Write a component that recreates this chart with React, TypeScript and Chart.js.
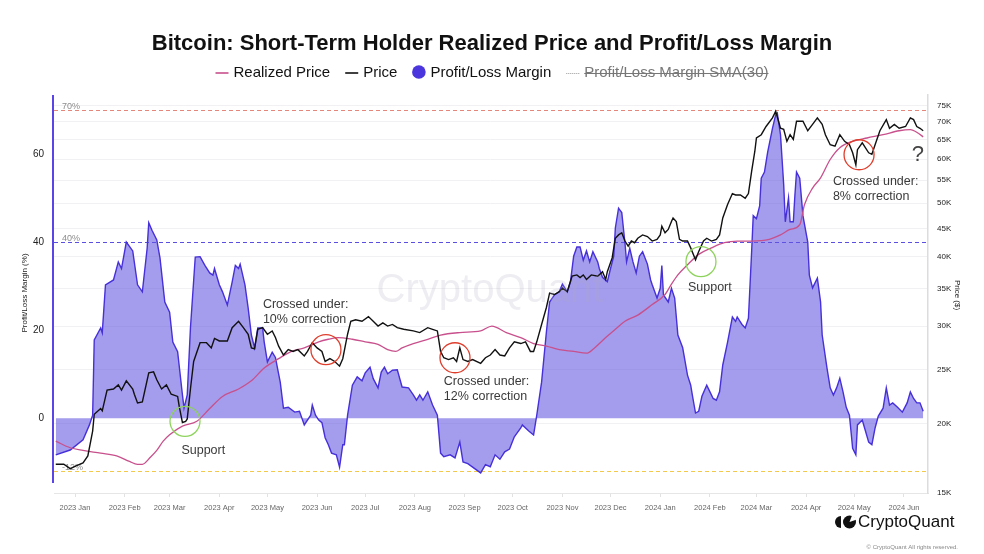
import React, { useEffect, useRef } from 'react';
import { Chart, registerables } from 'chart.js';

Chart.register(...registerables);

const FONT = '"Liberation Sans", Arial, Helvetica, sans-serif';

// ---- x axis (days since 2023-01-01) ----
const monthDays = [0, 31, 59, 90, 120, 151, 181, 212, 243, 273, 304, 334, 365, 396, 425, 456, 486, 517];
const monthLabels = [
  '2023 Jan', '2023 Feb', '2023 Mar', '2023 Apr', '2023 May', '2023 Jun', '2023 Jul', '2023 Aug',
  '2023 Sep', '2023 Oct', '2023 Nov', '2023 Dec', '2024 Jan', '2024 Feb', '2024 Mar', '2024 Apr',
  '2024 May', '2024 Jun',
];

// ---- Profit/Loss Margin (%) ----
const marginDays = [
  -12, -3, 5, 9, 11, 12, 16, 17, 19, 24,
  27, 29, 32, 36, 39, 42, 45, 46, 48, 51,
  53, 56, 59, 61, 64, 67, 68, 70, 72, 75,
  78, 81, 84, 86, 87, 90, 92, 95, 98, 100,
  102, 103, 106, 108, 110, 112, 114, 117, 118, 120,
  123, 125, 128, 130, 133, 137, 140, 143, 147, 148,
  150, 152, 154, 156, 158, 160, 163, 165, 167, 168,
  170, 173, 176, 179, 181, 184, 186, 189, 191, 193,
  195, 198, 201, 204, 208, 211, 213, 215, 217, 220,
  223, 226, 228, 230, 234, 237, 240, 242, 245, 248,
  253, 256, 259, 262, 265, 268, 271, 274, 278, 279,
  283, 286, 288, 291, 294, 296, 299, 302, 304, 307,
  309, 311, 313, 315, 317, 319, 321, 323, 326, 327,
  329, 332, 334, 336, 337, 339, 341, 343, 344, 346,
  348, 350, 352, 354, 357, 359, 360, 363, 365, 366,
  367, 370, 372, 374, 376, 379, 382, 384, 385, 387,
  389, 391, 394, 396, 398, 400, 402, 404, 407, 410,
  412, 413, 416, 418, 420, 422, 423, 425, 427, 428,
  430, 432, 435, 437, 438, 440, 442, 443, 445, 446,
  448, 449, 450, 452, 454, 457, 458, 460, 463, 465,
  466, 469, 471, 473, 475, 477, 479, 481, 483, 485,
  487, 488, 491, 493, 495, 497, 499, 501, 504, 506,
  508, 510, 513, 516, 519, 521, 523, 525, 527, 529,
];
const marginValues = [
  -8.3, -7.2, -4.9, -1.5, 0.7, 17.8, 20.5, 19.4, 30.3, 31.4,
  35.5, 34, 40, 38, 30.3, 28.7, 38.6, 44.4, 42.7, 40.5,
  36.4, 26.4, 24.1, 17.3, 15.1, 5.3, 2.3, 5.3, 20.5, 36.6,
  36.7, 34.7, 33, 32.5, 34, 30.3, 28.7, 25.7, 30.9, 34.7,
  34, 35, 30.3, 25, 18.9, 16, 20.5, 20.5, 17.3, 12.8,
  15, 13.8, 8.2, 2.3, 2.5, 1.4, 1.6, -1.5, 0.7, 3,
  0.7, -0.4, -1, -4.4, -6, -7.9, -8.3, -11.1, -6, -6,
  0.7, 7.5, 9.4, 8.5, 10.3, 11.6, 9, 6.9, 10.5, 11.6,
  10.1, 10.9, 11, 7.1, 6.9, 5.3, 4.1, 5.3, 4.1, 6,
  3, 0.7, -7.9, -8.7, -8.3, -9, -5.4, -9.9, -10.3, -11.1,
  -12.4, -10.5, -11, -8.3, -9.3, -7.6, -7, -4.2, -2.2, -1.5,
  -2.9, -3.8, 0.7, 8.2, 19.6, 26.4, 28, 28.7, 30.5, 28.7,
  31, 36.8, 38.9, 38.9, 35.9, 38, 35.5, 37.8, 35.5, 34,
  32, 31, 34, 36.8, 43.2, 47.7, 46.7, 39.8, 35.5, 38.6,
  35.5, 33, 36.8, 37.8, 35, 31.4, 30.3, 27.3, 29.5, 34.7,
  28, 26.4, 29.5, 27.3, 18.9, 16, 9.8, 7.5, 5.3, 1.2,
  1.6, 5, 7.5, 6, 4.5, 4.1, 6, 12.1, 17.3, 23,
  22, 23, 21.3, 20.5, 22.7, 37.8, 46, 45.3, 48.2, 54.5,
  55.9, 60.4, 65.8, 68.9, 69.3, 64.4, 53, 44.6, 50, 44.6,
  44.6, 50.7, 55.9, 54.5, 46, 40, 32.5, 29.6, 31.8, 26.4,
  18.9, 11.4, 6.9, 5.3, 6.9, 9.1, 6, 2.5, 0.7, -6.8,
  -8.3, -1.5, -0.4, -2.9, -5.4, -6, -2.2, 0.5, 2.3, 6.9,
  3, 3.5, 2.5, 1.4, 3.5, 6, 4.5, 3.5, 3.5, 1.6,
];

// ---- Price (thousand $) ----
const priceDays = [
  -12, -7, -3, 1, 5, 8, 11, 12, 16, 17,
  20, 24, 27, 29, 32, 36, 37, 39, 42, 46,
  49, 51, 54, 57, 60, 64, 65, 67, 69, 70,
  72, 74, 78, 82, 85, 87, 90, 95, 98, 102,
  105, 108, 110, 112, 114, 117, 120, 123, 125, 127,
  130, 133, 136, 139, 143, 145, 148, 151, 154, 156,
  159, 162, 165, 167, 170, 172, 175, 179, 183, 186,
  189, 192, 195, 198, 201, 205, 211, 215, 220, 223,
  226, 228, 230, 233, 236, 238, 240, 242, 245, 248,
  253, 256, 259, 262, 265, 268, 271, 274, 278, 281,
  284, 286, 288, 291, 294, 296, 299, 302, 304, 307,
  310, 313, 315, 317, 319, 322, 326, 329, 331, 332,
  335, 337, 339, 341, 343, 345, 347, 349, 351, 354,
  357, 360, 363, 365, 366, 368, 370, 372, 373, 375,
  377, 379, 382, 384, 387, 389, 392, 394, 397, 400,
  402, 404, 407, 410, 412, 415, 418, 420, 422, 424,
  425, 428, 431, 435, 437, 440, 442, 444, 446, 448,
  450, 454, 457, 460, 463, 466, 468, 471, 474, 477,
  480, 483, 485, 487, 488, 491, 495, 497, 499, 502,
  506, 508, 511, 514, 518, 521, 523, 525, 527, 529,
];
const priceValues = [
  16.9, 16.9, 16.6, 16.8, 17.0, 17.5, 19.4, 20.8, 21.3, 21.1,
  23.0, 23.1, 23.5, 23.0, 23.9, 23.1, 22.6, 21.8, 21.9, 24.7,
  24.8, 24.0, 23.1, 23.5, 22.6, 22.4, 21.5, 20.1, 20.2, 20.4,
  23.1, 25.9, 28.0, 28.0, 27.4, 28.5, 28.2, 28.2, 29.8, 30.6,
  29.8, 29.0, 27.4, 27.3, 29.6, 29.8, 29.0, 29.4, 28.6, 27.6,
  26.6, 27.2, 27.0, 27.2, 26.5, 27.0, 28.0, 27.4, 27.0, 25.9,
  26.2, 25.9, 25.4, 26.2, 29.0, 30.6, 30.8, 30.6, 31.2, 30.6,
  30.0, 30.4, 30.0, 30.2, 29.8, 29.6, 29.4, 29.2, 29.8, 29.6,
  29.4, 27.0, 26.3, 26.1, 26.3, 25.9, 27.4, 26.1, 25.9, 26.1,
  25.7, 26.3, 26.6, 27.2, 26.6, 26.5, 27.4, 28.1, 27.9, 28.1,
  27.0, 27.0, 28.1, 30.2, 32.4, 34.4, 34.2, 34.6, 35.1, 34.6,
  36.9, 37.1, 36.7, 37.1, 36.4, 37.1, 36.9, 37.6, 36.4, 37.6,
  39.8, 43.2, 43.8, 44.2, 42.7, 41.8, 42.7, 42.4, 43.2, 43.8,
  43.5, 42.7, 43.0, 43.8, 45.4, 44.2, 44.8, 46.3, 47.0, 46.3,
  43.0, 42.7, 42.7, 41.5, 39.5, 40.9, 42.7, 43.2, 42.7, 43.0,
  43.8, 47.0, 49.7, 52.0, 51.7, 51.7, 51.0, 52.0, 57.0, 62.0,
  65.5, 66.4, 68.7, 71.2, 73.2, 68.2, 67.9, 64.6, 66.4, 65.1,
  70.2, 70.2, 67.5, 69.3, 71.2, 69.3, 66.4, 63.7, 63.3, 66.4,
  64.6, 63.7, 61.6, 58.6, 62.4, 64.2, 61.6, 61.2, 63.7, 67.5,
  70.7, 68.2, 69.3, 68.2, 68.7, 71.2, 70.7, 68.7, 68.2, 67.5,
];

// ---- Short-term holder realized price (thousand $) ----
const realizedDays = [
  -12, -3, 5, 16, 26, 34, 39, 42, 47, 51,
  55, 59, 67, 76, 84, 92, 102, 110, 118, 127,
  135, 143, 152, 158, 164, 173, 181, 189, 195, 200,
  204, 211, 220, 228, 240, 253, 260, 269, 278, 286,
  294, 302, 311, 319, 324, 331, 337, 343, 351, 360,
  368, 372, 376, 382, 389, 397, 405, 413, 422, 433,
  440, 446, 452, 455, 460, 465, 471, 477, 485, 494,
  504, 514, 521, 526, 529,
];
const realizedValues = [
  18.6, 18.1, 17.9, 17.7, 17.5, 17.1, 16.9, 16.9, 17.4, 17.9,
  18.6, 19.1, 19.8, 20.2, 21.3, 22.4, 23.1, 23.9, 25.2, 26.2,
  27.0, 27.4, 28.1, 28.4, 28.6, 28.4, 28.1, 27.8, 27.2, 27.0,
  27.4, 27.9, 28.4, 28.9, 29.2, 29.4, 30.0, 29.2, 28.6, 27.9,
  27.6, 27.2, 27.0, 26.8, 27.4, 28.6, 29.6, 30.6, 31.4, 32.8,
  34.2, 35.7, 37.1, 38.7, 40.4, 41.5, 42.4, 42.7, 42.7, 43.0,
  43.8, 44.8, 45.7, 49.7, 53.2, 55.5, 59.9, 62.9, 64.6, 65.5,
  66.4, 67.5, 67.8, 66.8, 65.8,
];

const leftTicks = [0, 20, 40, 60];
const priceTicks = [15, 20, 25, 30, 35, 40, 45, 50, 55, 60, 65, 70, 75];
const refLevels = [70, 40, -12];
const refLabels = ['70%', '40%', '-12%'];

// annotations placed in data coordinates (day, price in K)
const circleNotes = [
  { day: 68.6, price: 20.2, kind: 'support' },
  { day: 156.5, price: 27.2, kind: 'cross' },
  { day: 237, price: 26.3, kind: 'cross' },
  { day: 390.4, price: 39.2, kind: 'support' },
  { day: 489, price: 61.1, kind: 'cross' },
];
const textNotes = [
  { day: 80, price: 17.9, lines: ['Support'], align: 'center' },
  { day: 117.2, price: 32.8, lines: ['Crossed under:', '10% correction'], align: 'left' },
  { day: 230, price: 23.8, lines: ['Crossed under:', '12% correction'], align: 'left' },
  { day: 382.3, price: 35.2, lines: ['Support'], align: 'left' },
  { day: 472.7, price: 54.6, lines: ['Crossed under:', '8% correction'], align: 'left' },
];
const questionNote = { day: 525.7, price: 61.1, text: '?' };

const TITLE = 'Bitcoin: Short-Term Holder Realized Price and Profit/Loss Margin';
const legendItems = [
  { text: 'Realized Price', kind: 'line', color: '#c8508c', hidden: false },
  { text: 'Price', kind: 'line', color: '#111111', hidden: false },
  { text: 'Profit/Loss Margin', kind: 'circle', color: '#4a36dc', hidden: false },
  { text: 'Profit/Loss Margin SMA(30)', kind: 'dotted', color: '#9a9a9a', hidden: true },
];

const zip = (xs: number[], ys: number[]) => xs.map((x, i) => ({ x, y: ys[i] }));

const overlayPlugin = {
  id: 'overlay',
  beforeDatasetsDraw(chart: any) {
    const { ctx, chartArea, scales } = chart;
    const y = scales.y;
    const colors = ['#e4877a', '#5b4fe2', '#f2c94a'];
    ctx.save();
    refLevels.forEach((lvl, i) => {
      const py = Math.round(y.getPixelForValue(lvl)) + 0.5;
      ctx.setLineDash([4, 3]);
      ctx.strokeStyle = colors[i];
      ctx.lineWidth = 1;
      ctx.beginPath();
      ctx.moveTo(chartArea.left, py);
      ctx.lineTo(chartArea.right, py);
      ctx.stroke();
      ctx.setLineDash([]);
      ctx.fillStyle = '#8c8c8c';
      ctx.font = `9px ${FONT}`;
      ctx.textAlign = 'left';
      ctx.textBaseline = 'alphabetic';
      ctx.fillText(refLabels[i], chartArea.left + 8, py - 2);
    });
    ctx.restore();
  },
  afterDatasetsDraw(chart: any) {
    const { ctx, scales } = chart;
    const x = scales.x;
    const y1 = scales.y1;
    ctx.save();
    // watermark
    ctx.font = `40px ${FONT}`;
    ctx.fillStyle = 'rgba(175,175,195,0.22)';
    ctx.textAlign = 'center';
    ctx.textBaseline = 'middle';
    ctx.fillText('CryptoQuant', 490, 291);

    // circles
    circleNotes.forEach((c) => {
      const px = x.getPixelForValue(c.day);
      const py = y1.getPixelForValue(c.price);
      ctx.beginPath();
      ctx.arc(px, py, 15, 0, Math.PI * 2);
      ctx.strokeStyle = c.kind === 'support' ? '#8ed35c' : '#df3d2b';
      ctx.lineWidth = 1.3;
      ctx.stroke();
    });

    // text notes
    ctx.font = `12.5px ${FONT}`;
    ctx.fillStyle = '#3a3a3a';
    ctx.textBaseline = 'middle';
    textNotes.forEach((t) => {
      const px = x.getPixelForValue(t.day);
      const py = y1.getPixelForValue(t.price);
      ctx.textAlign = t.align as CanvasTextAlign;
      t.lines.forEach((ln, i) => ctx.fillText(ln, px, py + i * 14.5));
    });
    ctx.font = `22px ${FONT}`;
    ctx.textAlign = 'center';
    ctx.fillStyle = '#444';
    ctx.fillText(questionNote.text, x.getPixelForValue(questionNote.day), y1.getPixelForValue(questionNote.price));
    ctx.restore();
  },
  afterDraw(chart: any) {
    const { ctx, chartArea, scales } = chart;
    ctx.save();
    // title
    ctx.fillStyle = '#111';
    ctx.font = `bold 22px ${FONT}`;
    ctx.textAlign = 'center';
    ctx.textBaseline = 'middle';
    ctx.fillText(TITLE, 492, 44);

    // legend
    ctx.font = `15px ${FONT}`;
    const mW = 13;
    const mGap = 5;
    const iGap = 15;
    const widths = legendItems.map((it) => mW + mGap + ctx.measureText(it.text).width);
    const total = widths.reduce((a, b) => a + b, 0) + iGap * (legendItems.length - 1);
    let lx = 492 - total / 2;
    const ly = 73;
    legendItems.forEach((it, i) => {
      if (it.kind === 'line') {
        ctx.strokeStyle = it.color;
        ctx.lineWidth = 1.6;
        ctx.setLineDash([]);
        ctx.beginPath();
        ctx.moveTo(lx, ly);
        ctx.lineTo(lx + mW, ly);
        ctx.stroke();
      } else if (it.kind === 'circle') {
        ctx.fillStyle = it.color;
        ctx.beginPath();
        ctx.arc(lx + mW / 2, ly - 1, 6.8, 0, Math.PI * 2);
        ctx.fill();
      } else {
        ctx.strokeStyle = it.color;
        ctx.lineWidth = 1;
        ctx.setLineDash([1, 1]);
        ctx.beginPath();
        ctx.moveTo(lx, ly + 0.5);
        ctx.lineTo(lx + mW, ly + 0.5);
        ctx.stroke();
        ctx.setLineDash([]);
      }
      const tx = lx + mW + mGap;
      ctx.fillStyle = it.hidden ? '#777' : '#111';
      ctx.textAlign = 'left';
      ctx.textBaseline = 'middle';
      ctx.fillText(it.text, tx, ly);
      if (it.hidden) {
        const w = ctx.measureText(it.text).width;
        ctx.strokeStyle = '#777';
        ctx.lineWidth = 1;
        ctx.beginPath();
        ctx.moveTo(tx, ly + 0.5);
        ctx.lineTo(tx + w, ly + 0.5);
        ctx.stroke();
      }
      lx += widths[i] + iGap;
    });

    // axis titles
    ctx.fillStyle = '#222';
    ctx.font = `8px ${FONT}`;
    ctx.textAlign = 'center';
    ctx.textBaseline = 'middle';
    ctx.save();
    ctx.translate(25, 293);
    ctx.rotate(-Math.PI / 2);
    ctx.fillText('Profit/Loss Margin (%)', 0, 0);
    ctx.restore();
    ctx.save();
    ctx.translate(957, 295);
    ctx.rotate(Math.PI / 2);
    ctx.fillText('Price ($)', 0, 0);
    ctx.restore();

    // left accent border
    const yb = scales.y.getPixelForValue(-14.7);
    ctx.strokeStyle = '#5a45e6';
    ctx.lineWidth = 2;
    ctx.beginPath();
    ctx.moveTo(chartArea.left - 1, chartArea.top);
    ctx.lineTo(chartArea.left - 1, yb);
    ctx.stroke();

    // logo
    ctx.fillStyle = '#111';
    ctx.beginPath();
    ctx.arc(841, 522, 6, Math.PI / 2, (Math.PI * 3) / 2);
    ctx.closePath();
    ctx.fill();
    ctx.beginPath();
    ctx.arc(849.5, 522, 6.5, 0, Math.PI * 2);
    ctx.fill();
    ctx.fillStyle = '#fff';
    ctx.beginPath();
    ctx.moveTo(849.5, 522);
    ctx.arc(849.5, 522, 7, -Math.PI / 2.6, -Math.PI / 10);
    ctx.closePath();
    ctx.fill();
    ctx.fillStyle = '#111';
    ctx.font = `17px ${FONT}`;
    ctx.textAlign = 'left';
    ctx.textBaseline = 'middle';
    ctx.fillText('CryptoQuant', 858, 522);
    ctx.fillStyle = '#888';
    ctx.font = `6px ${FONT}`;
    ctx.textAlign = 'right';
    ctx.fillText('\u00A9 CryptoQuant All rights reserved.', 958, 547);
    ctx.restore();
  },
};

export default function App() {
  const ref = useRef<HTMLCanvasElement>(null);
  useEffect(() => {
    const canvas = ref.current;
    if (!canvas) return;
    const chart = new Chart(canvas, {
      type: 'line',
      data: {
        datasets: [
          {
            label: 'Price',
            data: zip(priceDays, priceValues),
            yAxisID: 'y1',
            borderColor: '#111111',
            borderWidth: 1.4,
            pointRadius: 0,
            fill: false,
            order: 0,
          },
          {
            label: 'Realized Price',
            data: zip(realizedDays, realizedValues),
            yAxisID: 'y1',
            borderColor: '#c8508c',
            borderWidth: 1.3,
            pointRadius: 0,
            fill: false,
            cubicInterpolationMode: 'monotone',
            order: 1,
          },
          {
            label: 'Profit/Loss Margin',
            data: zip(marginDays, marginValues),
            yAxisID: 'y',
            borderColor: '#4630d9',
            backgroundColor: 'rgba(99,84,222,0.58)',
            borderWidth: 1.4,
            pointRadius: 0,
            fill: 'origin',
            order: 2,
          },
        ],
      } as any,
      options: {
        animation: false,
        responsive: false,
        maintainAspectRatio: false,
        layout: { padding: { top: 95, left: 0, right: 0, bottom: 0 } },
        plugins: {
          legend: { display: false },
          title: { display: false },
          tooltip: { enabled: false },
        },
        scales: {
          x: {
            type: 'linear',
            min: -13.1,
            max: 532,
            afterBuildTicks: (s: any) => {
              s.ticks = monthDays.map((v) => ({ value: v }));
            },
            afterFit: (s: any) => {
              s.height = 61;
            },
            ticks: {
              autoSkip: false,
              maxRotation: 0,
              padding: 6,
              color: '#666',
              font: { family: FONT, size: 7.5 },
              callback: (v: any) => {
                const i = monthDays.indexOf(Number(v));
                return i >= 0 ? monthLabels[i] : '';
              },
            },
            grid: { drawOnChartArea: false, drawTicks: true, tickLength: 4, color: '#e2e2e2' },
            border: { display: true, color: '#e6e6e6' },
          },
          y: {
            type: 'linear',
            position: 'left',
            min: -16.96,
            max: 73.39,
            afterBuildTicks: (s: any) => {
              s.ticks = leftTicks.map((v) => ({ value: v }));
            },
            afterFit: (s: any) => {
              s.width = 54;
            },
            ticks: { padding: 10, color: '#222', font: { family: FONT, size: 10 } },
            grid: { display: false, drawTicks: false },
            border: { display: false },
          },
          y1: {
            type: 'logarithmic',
            position: 'right',
            min: 15,
            max: 78.3,
            afterBuildTicks: (s: any) => {
              s.ticks = priceTicks.map((v) => ({ value: v }));
            },
            afterFit: (s: any) => {
              s.width = 56;
            },
            ticks: {
              padding: 9,
              color: '#222',
              font: { family: FONT, size: 8 },
              callback: (v: any) => `${v}K`,
            },
            grid: { color: '#f1f1f3', drawTicks: false },
            border: { display: true, color: '#dcdce0', width: 1.5 },
          },
        },
      } as any,
      plugins: [overlayPlugin],
    });
    return () => chart.destroy();
  }, []);

  return (
    <div style={{ position: 'absolute', left: 0, top: 0, width: 984, height: 554, background: '#fff' }}>
      <canvas ref={ref} width={984} height={554} style={{ display: 'block', width: 984, height: 554 }} />
    </div>
  );
}
